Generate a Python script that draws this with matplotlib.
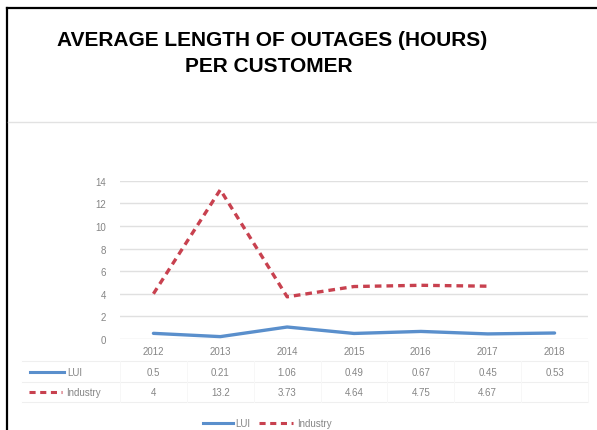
import matplotlib
matplotlib.use("Agg")
import matplotlib.pyplot as plt
from matplotlib.transforms import blended_transform_factory
from matplotlib.lines import Line2D

years = ["2012", "2013", "2014", "2015", "2016", "2017", "2018"]
lui = [0.5, 0.21, 1.06, 0.49, 0.67, 0.45, 0.53]
industry = [4, 13.2, 3.73, 4.64, 4.75, 4.67, None]
lui_labels = ["0.5", "0.21", "1.06", "0.49", "0.67", "0.45", "0.53"]
ind_labels = ["4", "13.2", "3.73", "4.64", "4.75", "4.67", ""]
yticks = [0, 2, 4, 6, 8, 10, 12, 14]

W, H = 597, 431
fig = plt.figure(figsize=(W / 100, H / 100), dpi=100)
fig.patch.set_facecolor("white")

def fx(p):
    return p / W

def fy(p):
    return 1 - p / H

BLUE = "#5a8fcc"
RED = "#c8414f"
GRID = "#e0e0e0"
TXT = "#858585"
FONT = "Liberation Sans"

# frame border
fig.add_artist(Line2D([fx(7), fx(7)], [fy(9), 0], color="black", lw=1.6, transform=fig.transFigure))
fig.add_artist(Line2D([fx(7), 1], [fy(9), fy(9)], color="black", lw=1.6, transform=fig.transFigure))
fig.add_artist(Line2D([fx(8), 1], [fy(123), fy(123)], color="#e2e2e2", lw=1.0, transform=fig.transFigure))

# title
fig.text(fx(272), fy(41), "AVERAGE LENGTH OF OUTAGES (HOURS)", ha="center", va="center",
         fontsize=15, fontweight="bold", family=FONT, color="black")
fig.text(fx(269), fy(67), "PER CUSTOMER", ha="center", va="center",
         fontsize=15, fontweight="bold", family=FONT, color="black")

ax_left, ax_right = 120, 588
ax_top, ax_bot = 181.7, 340
ax = fig.add_axes([fx(ax_left), fy(ax_bot), (ax_right - ax_left) / W, (ax_bot - ax_top) / H])
ax.set_xlim(-0.5, 6.5)
ax.set_ylim(0, 14)
for s in ax.spines.values():
    s.set_visible(False)
ax.set_yticks(yticks)
ax.set_yticklabels([str(v) for v in yticks], fontsize=7, color=TXT, family=FONT)
ax.tick_params(axis="y", length=0, pad=10)
ax.set_xticks([])
ax.grid(axis="y", color=GRID, lw=1.0)
ax.set_axisbelow(True)

x = list(range(len(years)))
ax.plot(x, lui, color=BLUE, lw=2.4, solid_capstyle="round", clip_on=False)
ix = [i for i, v in enumerate(industry) if v is not None]
iv = [industry[i] for i in ix]
ax.plot(ix, iv, color=RED, lw=2.4, dashes=(2.0, 1.5), clip_on=False)

# data table
tr = blended_transform_factory(ax.transData, fig.transFigure)
rows_y = [352, 373, 393]
for i, yr in enumerate(years):
    ax.text(i, fy(rows_y[0]), yr, transform=tr, ha="center", va="center", fontsize=7, color=TXT, family=FONT)
    ax.text(i, fy(rows_y[1]), lui_labels[i], transform=tr, ha="center", va="center", fontsize=7, color=TXT, family=FONT)
    ax.text(i, fy(rows_y[2]), ind_labels[i], transform=tr, ha="center", va="center", fontsize=7, color=TXT, family=FONT)

for yl in [362, 383, 403]:
    fig.add_artist(Line2D([fx(22), fx(ax_right)], [fy(yl), fy(yl)], color="#efefef", lw=0.8, transform=fig.transFigure))
for i in range(len(years) + 1):
    xb = ax_left + i * (ax_right - ax_left) / 7
    fig.add_artist(Line2D([fx(xb), fx(xb)], [fy(362), fy(403)], color="#f7f7f7", lw=0.7, transform=fig.transFigure))

# table legend keys
fig.add_artist(Line2D([fx(30), fx(64)], [fy(373), fy(373)], color=BLUE, lw=2.2, transform=fig.transFigure))
fig.text(fx(67), fy(373), "LUI", ha="left", va="center", fontsize=7, color=TXT, family=FONT)
fig.add_artist(Line2D([fx(29), fx(62)], [fy(393), fy(393)], color=RED, lw=2.2, dashes=(2.0, 1.5), transform=fig.transFigure))
fig.text(fx(66), fy(393), "Industry", ha="left", va="center", fontsize=7, color=TXT, family=FONT)

# bottom legend
fig.add_artist(Line2D([fx(203), fx(233)], [fy(424), fy(424)], color=BLUE, lw=2.2, transform=fig.transFigure))
fig.text(fx(235), fy(424), "LUI", ha="left", va="center", fontsize=7, color=TXT, family=FONT)
fig.add_artist(Line2D([fx(259), fx(293)], [fy(424), fy(424)], color=RED, lw=2.2, dashes=(2.0, 1.5), transform=fig.transFigure))
fig.text(fx(297), fy(424), "Industry", ha="left", va="center", fontsize=7, color=TXT, family=FONT)

fig.savefig("out.png", dpi=100, facecolor="white")
